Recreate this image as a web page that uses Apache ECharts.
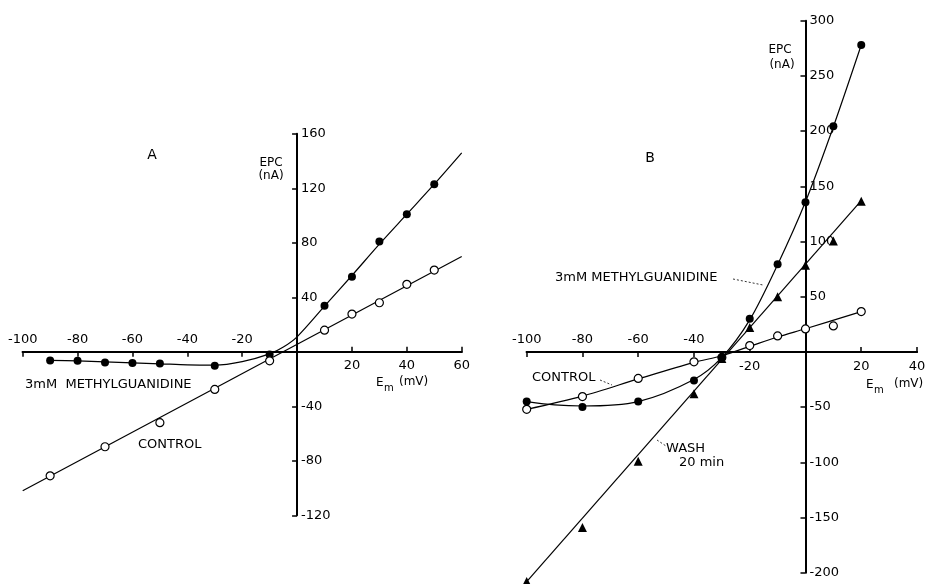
<!DOCTYPE html>
<html>
<head>
<meta charset="utf-8">
<script src="https://cdn.jsdelivr.net/npm/echarts@6/dist/echarts.min.js"></script>
<style>
  html, body { margin: 0; padding: 0; background: #fff; }
  #chart { width: 927px; height: 584px; }
</style>
</head>
<body>
<div id="chart"></div>
<script>
// ---------- Panel A data (Em in mV, EPC in nA) ----------
const mvA_mg   = [-90, -80, -70, -60, -50, -30, -10, 10, 20, 30, 40, 50];
const epcA_mg  = [-6.3, -6.6, -7.8, -8.2, -8.6, -10.2, -2, 33.8, 55, 81, 101, 123];
const mvA_ctl  = [-90, -70, -50, -30, -10, 10, 20, 30, 40, 50];
const epcA_ctl = [-91, -69.7, -52, -27.6, -6.6, 15.9, 27.7, 36, 49.5, 60];
// drawn (fitted) curves in panel A
const fitA_mg_mv   = [-90, -80, -70, -60, -50, -40, -30, -20, -10, -5, 0, 10, 20, 30, 40, 50, 60];
const fitA_mg_epc  = [-6.3, -6.7, -7.4, -8.1, -8.8, -9.6, -9.8, -7.2, -1.5, 3.5, 11, 33.5, 56, 79, 101, 123, 146];
const fitA_ctl_mv  = [-100, 60];
const fitA_ctl_epc = [-102, 70];

// ---------- Panel B data ----------
const mvB       = [-100, -80, -60, -40, -30, -20, -10, 0, 10, 20];
const epcB_ctl  = [-52, -40.5, -24, -9, -5, 5.7, 14.5, 20.8, 23.5, 36.5];
const epcB_mg   = [-45, -50, -45, -26, -5, 30, 79.5, 135.5, 204.5, 278];
const epcB_wash = [-208, -159, -99, -38, -6, 22, 50, 78.5, 100.5, 136.5];
// drawn (fitted) curves in panel B
const fitB_ctl_mv   = [-100, -80, -60, -40, -30, -20, -10, 0, 20];
const fitB_ctl_epc  = [-52, -40, -24.5, -9.5, -3.5, 5, 13.5, 21, 36.5];
const fitB_mg_mv    = [-100, -90, -80, -60, -40, -30, -20, -10, 0, 10, 20];
const fitB_mg_epc   = [-45, -48, -49, -45, -25, -5, 29, 79, 136, 204, 278];
const fitB_wash_mv  = [-100, 20];
const fitB_wash_epc = [-208, 137];

// ---------- Axis ranges and tick labels ----------
const xRangeA = [-100, 60],  yRangeA = [-120, 160];
const xRangeB = [-100, 40],  yRangeB = [-200, 300];
const xTicksA_above = [-100, -80, -60, -40, -20];
const xTicksA_below = [20, 40, 60];
const yTicksA       = [-120, -80, -40, 40, 80, 120, 160];
const xTicksB_above = [-100, -80, -60, -40];
const xTicksB_below = [-20, 20, 40];
const yTicksB       = [-200, -150, -100, -50, 50, 100, 150, 200, 250, 300];

const FONT = 'DejaVu Sans';
const INK = '#000';
const TICKFS = 13;
const zip = (xs, ys) => xs.map((x, i) => [x, ys[i]]);

// plot boxes (pixel layout)
const boxA = { left: 22.7, top: 133.8, width: 439, height: 381.5 };
const boxB = { left: 526.7, top: 20.7, width: 390.3, height: 552 };

function zeroY(box, yr) { return box.top + box.height * yr[1] / (yr[1] - yr[0]); }
function zeroX(box, xr) { return box.left + box.width * (-xr[0]) / (xr[1] - xr[0]); }

const grids = [], xAxes = [], yAxes = [];
function hiddenAxis(gi, min, max) {
  return { type: 'value', gridIndex: gi, min: min, max: max, show: false, splitLine: { show: false } };
}
function addGrid(g) { grids.push(Object.assign({ outerBoundsMode: 'none', containLabel: false }, g)); return grids.length - 1; }

function buildPanel(box, xr, yr, ticksAbove, ticksBelow, ticksY, belowMargin) {
  const zy = zeroY(box, yr), zx = zeroX(box, xr);
  // data grid
  const g0 = addGrid({ left: box.left, top: box.top, width: box.width, height: box.height });
  xAxes.push(hiddenAxis(g0, xr[0], xr[1])); yAxes.push(hiddenAxis(g0, yr[0], yr[1]));
  const dataX = xAxes.length - 1, dataY = yAxes.length - 1;
  // x axis with labels above (grid whose bottom edge is the zero line)
  const g1 = addGrid({ left: box.left, top: box.top, width: box.width, height: zy - box.top });
  xAxes.push({
    type: 'value', gridIndex: g1, min: xr[0], max: xr[1], position: 'bottom',
    axisLine: { show: true, onZero: false, lineStyle: { color: INK, width: 2 } },
    axisTick: { show: true, inside: false, length: 5, customValues: ticksAbove, lineStyle: { color: INK, width: 1.5 } },
    axisLabel: { show: true, inside: true, customValues: ticksAbove, margin: 6, color: INK, fontFamily: FONT, fontSize: TICKFS },
    splitLine: { show: false }
  });
  yAxes.push(hiddenAxis(g1, 0, yr[1]));
  // x axis with labels below (grid whose top edge is the zero line)
  const g2 = addGrid({ left: box.left, top: zy, width: box.width, height: box.top + box.height - zy });
  xAxes.push({
    type: 'value', gridIndex: g2, min: xr[0], max: xr[1], position: 'top',
    axisLine: { show: true, onZero: false, lineStyle: { color: INK, width: 2 } },
    axisTick: { show: true, inside: false, length: 5, customValues: ticksBelow, lineStyle: { color: INK, width: 1.5 } },
    axisLabel: { show: true, inside: true, customValues: ticksBelow, margin: belowMargin, color: INK, fontFamily: FONT, fontSize: TICKFS },
    splitLine: { show: false }
  });
  yAxes.push(hiddenAxis(g2, yr[0], 0));
  // y axis (grid whose left edge is the zero line)
  const g3 = addGrid({ left: zx, top: box.top, width: box.left + box.width - zx, height: box.height });
  xAxes.push(hiddenAxis(g3, 0, xr[1]));
  yAxes.push({
    type: 'value', gridIndex: g3, min: yr[0], max: yr[1], position: 'left',
    axisLine: { show: true, onZero: false, lineStyle: { color: INK, width: 2 } },
    axisTick: { show: true, inside: false, length: 5, customValues: ticksY, lineStyle: { color: INK, width: 1.5 } },
    axisLabel: { show: true, inside: true, customValues: ticksY, margin: 4, color: INK, fontFamily: FONT, fontSize: TICKFS },
    splitLine: { show: false }
  });
  return { x: dataX, y: dataY };
}

const pA = buildPanel(boxA, xRangeA, yRangeA, xTicksA_above, xTicksA_below, yTicksA, 7);
const pB = buildPanel(boxB, xRangeB, yRangeB, xTicksB_above, xTicksB_below, yTicksB, 8);

function fitLine(p, data) {
  return { type: 'line', xAxisIndex: p.x, yAxisIndex: p.y, data: data, showSymbol: false, symbol: 'none',
           smooth: 0.3, clip: false, lineStyle: { color: INK, width: 1.2, opacity: 1 }, z: 2, silent: true };
}
function pts(p, data, kind) {
  const s = { type: 'scatter', xAxisIndex: p.x, yAxisIndex: p.y, data: data, clip: false, z: 3, silent: true };
  if (kind === 'filled') { s.symbol = 'circle'; s.symbolSize = 8; s.itemStyle = { color: INK, opacity: 1 }; }
  if (kind === 'open')   { s.symbol = 'circle'; s.symbolSize = 8; s.itemStyle = { color: '#fff', borderColor: INK, borderWidth: 1.2, opacity: 1 }; }
  if (kind === 'tri')    { s.symbol = 'triangle'; s.symbolSize = 9; s.itemStyle = { color: INK, opacity: 1 }; }
  return s;
}
function txt(x, y, text, size, align) {
  return { type: 'text', x: x, y: y, silent: true,
           style: { text: text, fill: INK, font: size + 'px "' + FONT + '"', textAlign: align || 'left', textVerticalAlign: 'middle' } };
}
function lead(x1, y1, x2, y2) {
  return { type: 'line', silent: true, shape: { x1: x1, y1: y1, x2: x2, y2: y2 },
           style: { stroke: INK, lineWidth: 0.8, lineDash: [2, 2] } };
}

const chart = echarts.init(document.getElementById('chart'), null, { renderer: 'canvas' });
chart.setOption({
  backgroundColor: '#fff',
  animation: false,
  grid: grids,
  xAxis: xAxes,
  yAxis: yAxes,
  series: [
    fitLine(pA, zip(fitA_mg_mv, fitA_mg_epc)),
    fitLine(pA, zip(fitA_ctl_mv, fitA_ctl_epc)),
    pts(pA, zip(mvA_mg, epcA_mg), 'filled'),
    pts(pA, zip(mvA_ctl, epcA_ctl), 'open'),
    fitLine(pB, zip(fitB_ctl_mv, fitB_ctl_epc)),
    fitLine(pB, zip(fitB_mg_mv, fitB_mg_epc)),
    fitLine(pB, zip(fitB_wash_mv, fitB_wash_epc)),
    pts(pB, zip(mvB, epcB_ctl), 'open'),
    pts(pB, zip(mvB, epcB_mg), 'filled'),
    pts(pB, zip(mvB, epcB_wash), 'tri')
  ],
  graphic: [
    txt(152, 155, 'A', 14, 'center'),
    txt(650, 158, 'B', 14, 'center'),
    // panel A axis titles
    txt(271, 163, 'EPC', 12, 'center'),
    txt(271, 176, '(nA)', 12, 'center'),
    txt(376, 383, 'E', 12, 'left'),
    txt(384, 388, 'm', 10, 'left'),
    txt(399, 382, '(mV)', 12, 'left'),
    // panel A series labels
    txt(25, 385, '3mM  METHYLGUANIDINE', 13, 'left'),
    txt(138, 445, 'CONTROL', 13, 'left'),
    // panel B axis titles
    txt(780, 50, 'EPC', 12, 'center'),
    txt(782, 65, '(nA)', 12, 'center'),
    txt(866, 385, 'E', 12, 'left'),
    txt(874, 390, 'm', 10, 'left'),
    txt(894, 384, '(mV)', 12, 'left'),
    // panel B series labels
    txt(555, 278, '3mM METHYLGUANIDINE', 13, 'left'),
    lead(733, 279, 763, 285),
    txt(532, 378, 'CONTROL', 13, 'left'),
    lead(600, 380, 612, 385),
    txt(666, 449, 'WASH', 13, 'left'),
    txt(679, 463, '20 min', 13, 'left'),
    lead(657, 440, 666, 446)
  ]
});
</script>
</body>
</html>
